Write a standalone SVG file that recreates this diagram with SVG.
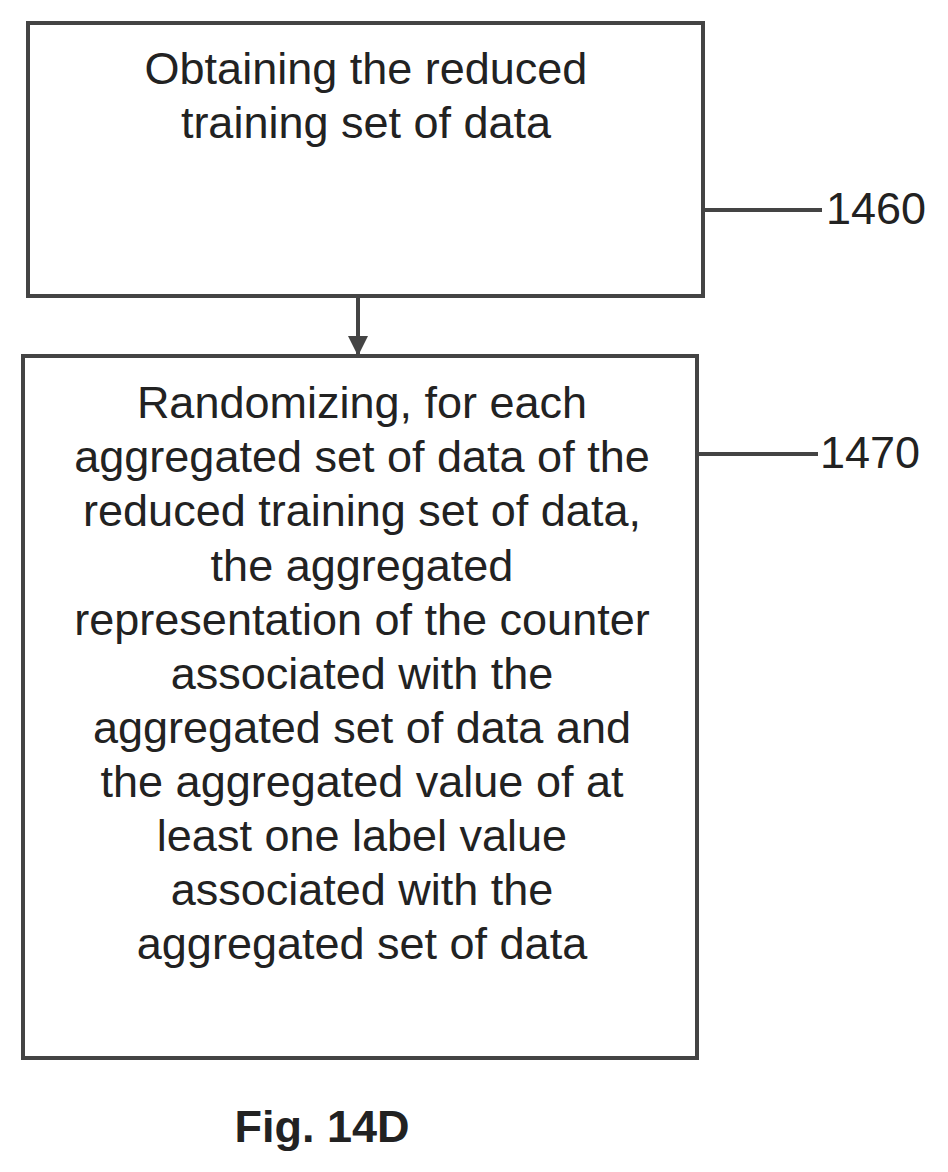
<svg xmlns="http://www.w3.org/2000/svg" width="948" height="1172" viewBox="0 0 948 1172">
<style>
.box{fill:#fff;stroke:#444;stroke-width:4}
.t{font-family:"Liberation Sans",Arial,sans-serif;font-size:45px;fill:#222;text-anchor:middle}
.lbl{font-family:"Liberation Sans",Arial,sans-serif;font-size:45px;fill:#222}
.ln{stroke:#444;stroke-width:4;fill:none}
</style>
<defs><marker id="ah" viewBox="0 0 10 10" refX="9" refY="5" markerWidth="5" markerHeight="5" orient="auto"><path d="M0,0 L10,5 L0,10 z" fill="#444"/></marker></defs>
<rect width="948" height="1172" fill="#fff"/>
<g id="n1460">
<rect class="box" x="28" y="23" width="675" height="273"/>
<text class="t" x="366" y="84">Obtaining the reduced</text>
<text class="t" x="366" y="138">training set of data</text>
<text class="lbl" x="826" y="224">1460</text>
</g>
<g id="n1470">
<rect class="box" x="23" y="356" width="674" height="702"/>
<text class="t"><tspan x="362" y="418">Randomizing, for each</tspan><tspan x="362" y="472">aggregated set of data of the</tspan><tspan x="362" y="526">reduced training set of data,</tspan><tspan x="362" y="581">the aggregated</tspan><tspan x="362" y="635">representation of the counter</tspan><tspan x="362" y="689">associated with the</tspan><tspan x="362" y="743">aggregated set of data and</tspan><tspan x="362" y="797">the aggregated value of at</tspan><tspan x="362" y="851">least one label value</tspan><tspan x="362" y="905">associated with the</tspan><tspan x="362" y="959">aggregated set of data</tspan></text>
<text class="lbl" x="820" y="468">1470</text>
</g>
<g id="connectors">
<line class="ln" x1="358" y1="298" x2="358" y2="354" marker-end="url(#ah)"/>
<line class="ln" x1="703" y1="210" x2="822" y2="210"/>
<line class="ln" x1="697" y1="454" x2="818" y2="454"/>
</g>
<text class="t" x="322" y="1142" style="font-weight:bold">Fig. 14D</text>
</svg>
